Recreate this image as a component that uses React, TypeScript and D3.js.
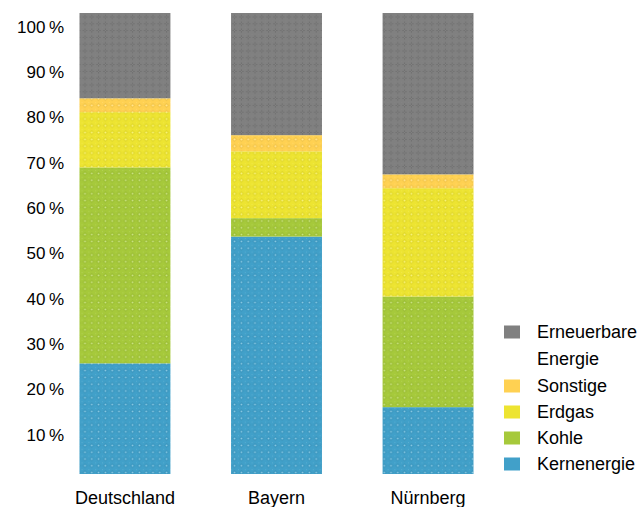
import React from "react";
import * as d3 from "d3";

// Anteile der Energieträger an der Stromerzeugung (in %)
const categories = ["Deutschland", "Bayern", "Nürnberg"];
const kernenergie = [24, 51.5, 14.5];
const kohle = [42.5, 4, 24];
const erdgas = [12, 14.5, 23.5];
const sonstige = [3, 3.5, 3];
const erneuerbare = [18.5, 26.5, 35];

const seriesNames = ["Kernenergie", "Kohle", "Erdgas", "Sonstige", "Erneuerbare Energie"];
const seriesValues = [kernenergie, kohle, erdgas, sonstige, erneuerbare];
const seriesColors = ["#41a0c9", "#a6c93b", "#ede431", "#ffd152", "#808080"];
const tickValues = [10, 20, 30, 40, 50, 60, 70, 80, 90, 100];

const W = 641;
const H = 507;
const FONT = "'Liberation Sans', Arial, Helvetica, sans-serif";

export default function App() {
  const keys = seriesNames;
  const rows = categories.map((c, i) => {
    const r: Record<string, number | string> = { cat: c };
    keys.forEach((k, j) => (r[k] = seriesValues[j][i]));
    return r;
  });
  const stack = d3.stack<any>().keys(keys)(rows as any);

  const x = d3.scaleBand().domain(categories).range([79.5, 473.5]).paddingInner(0.4).paddingOuter(0);
  const y = d3.scaleLinear().domain([0, 100]).range([474, 13]);
  const tickY = d3.scaleLinear().domain([10, 100]).range([435, 27]);

  const legendOrder = [4, 3, 2, 1, 0];
  const legendY = [332, 386, 412, 438, 464];

  return (
    <svg
      width={W}
      height={H}
      style={{ position: "absolute", left: 0, top: 0, background: "#fff" }}
      fontFamily={FONT}
    >
      <defs>
        {seriesColors.map((c, i) => (
          <pattern key={i} id={`tex${i}`} width={6.8} height={6.8} patternUnits="userSpaceOnUse">
            <rect width={6.8} height={6.8} fill={c} />
            {i === 4 ? (
              <path d="M3.4 1.4V5.4M1.4 3.4H5.4" stroke="#606060" strokeWidth={1} opacity={0.7} />
            ) : (
              <path d="M3.4 1.2L5.6 3.4L3.4 5.6L1.2 3.4Z" fill="none" stroke="#000" strokeWidth={0.6} opacity={0.1} />
            )}
            <circle cx={3.4} cy={3.4} r={0.8} fill={i === 4 ? "#9a9a9a" : "#fff"} opacity={i === 4 ? 0.6 : 0.45} />
            <circle cx={0} cy={0} r={0.8} fill={i === 4 ? "#9a9a9a" : "#fff"} opacity={0.3} />
          </pattern>
        ))}
      </defs>

      {stack.map((layer, li) => (
        <g key={layer.key} fill={`url(#tex${li})`}>
          {layer.map((d, ci) => (
            <rect
              key={ci}
              x={x(categories[ci])}
              y={y(d[1])}
              width={x.bandwidth()}
              height={y(d[0]) - y(d[1])}
            />
          ))}
        </g>
      ))}

      {tickValues.map((t) => (
        <text
          key={t}
          x={64}
          y={tickY(t)}
          textAnchor="end"
          dominantBaseline="central"
          fontSize={17}
          fill="#000"
        >
          {`${t}\u2009%`}
        </text>
      ))}

      {categories.map((c) => (
        <text
          key={c}
          x={(x(c) as number) + x.bandwidth() / 2}
          y={503.5}
          textAnchor="middle"
          fontSize={18}
          fill="#000"
        >
          {c}
        </text>
      ))}

      {legendOrder.map((si, k) => (
        <g key={si}>
          <rect x={504} y={legendY[k] - 6.5} width={16} height={13} fill={seriesColors[si]} />
          {si === 4 ? (
            <text x={537} fontSize={18} fill="#000">
              <tspan x={537} y={legendY[k]} dominantBaseline="central">Erneuerbare</tspan>
              <tspan x={537} y={legendY[k] + 27} dominantBaseline="central">Energie</tspan>
            </text>
          ) : (
            <text x={537} y={legendY[k]} dominantBaseline="central" fontSize={18} fill="#000">
              {seriesNames[si]}
            </text>
          )}
        </g>
      ))}
    </svg>
  );
}
